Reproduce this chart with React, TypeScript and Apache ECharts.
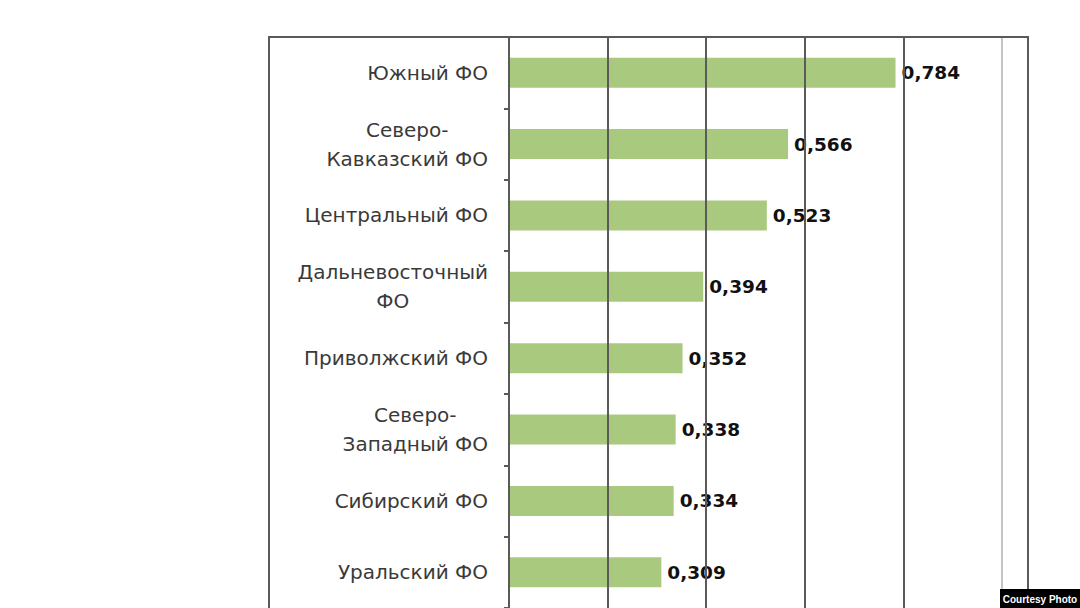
import React, { useEffect, useRef } from "react";
import * as echarts from "echarts";

const categories: string[] = [
  "Южный ФО",
  "Северо-\nКавказский ФО",
  "Центральный ФО",
  "Дальневосточный\nФО",
  "Приволжский ФО",
  "Северо-\nЗападный ФО",
  "Сибирский ФО",
  "Уральский ФО",
];

const values: number[] = [0.784, 0.566, 0.523, 0.394, 0.352, 0.338, 0.334, 0.309];

const axisMin = 0;
const axisMax = 1;
const axisStep = 0.2;

export default function App() {
  const ref = useRef<HTMLDivElement>(null);

  useEffect(() => {
    document.body.style.margin = "0";
    document.body.style.overflow = "hidden";
    const chart = echarts.init(ref.current!, null, { renderer: "svg" });
    const gridColor = "#5a5a5a";
    chart.setOption({
      animation: false,
      backgroundColor: "#ffffff",
      grid: { left: 509, top: 37, width: 493, height: 576 },
      xAxis: {
        type: "value",
        min: axisMin,
        max: axisMax,
        interval: axisStep,
        axisLabel: { show: false },
        axisLine: { show: false },
        axisTick: { show: false },
        splitLine: {
          show: true,
          lineStyle: {
            color: [gridColor, gridColor, gridColor, gridColor, gridColor, "#c4c4c4"],
            width: 2,
          },
        },
      },
      yAxis: {
        type: "category",
        inverse: true,
        data: categories,
        axisLine: { show: true, lineStyle: { color: gridColor, width: 2 } },
        axisTick: { show: true, length: 5, lineStyle: { color: gridColor, width: 2 } },
        axisLabel: {
          margin: 21,
          color: "#3a3a3a",
          fontFamily: "DejaVu Sans",
          fontSize: 20,
          lineHeight: 29,
          formatter: (v: string) =>
            v
              .split("\n")
              .map((s) => "{c|" + s + "}")
              .join("\n"),
          rich: {
            c: {
              align: "center",
              fontFamily: "DejaVu Sans",
              fontSize: 20,
              lineHeight: 29,
              color: "#3a3a3a",
            },
          },
        },
      },
      series: [
        {
          type: "bar",
          data: values,
          barWidth: 30,
          z: -1,
          itemStyle: { color: "#a9c97f" },
          label: {
            show: true,
            position: "right",
            distance: 6,
            color: "#111111",
            fontWeight: "bold",
            fontFamily: "DejaVu Sans",
            fontSize: 18.5,
            formatter: (p: any) => p.value.toFixed(3).replace(".", ","),
          },
        },
      ],
      graphic: [
        {
          type: "rect",
          shape: { x: 269, y: 37, width: 759, height: 620 },
          style: { fill: "none", stroke: gridColor, lineWidth: 2 },
          z: 10,
          silent: true,
        },
        {
          type: "rect",
          shape: { x: 1000, y: 589, width: 80, height: 19 },
          style: { fill: "#000000" },
          z: 20,
        },
        {
          type: "text",
          x: 1040,
          y: 599,
          style: {
            text: "Courtesy Photo",
            fill: "#ffffff",
            font: "bold 10px 'Liberation Sans', Arial, sans-serif",
            textAlign: "center",
            textVerticalAlign: "middle",
          },
          z: 21,
        },
      ],
    });
    return () => chart.dispose();
  }, []);

  return (
    <div
      ref={ref}
      style={{ position: "absolute", left: 0, top: 0, width: 1080, height: 608 }}
    />
  );
}
